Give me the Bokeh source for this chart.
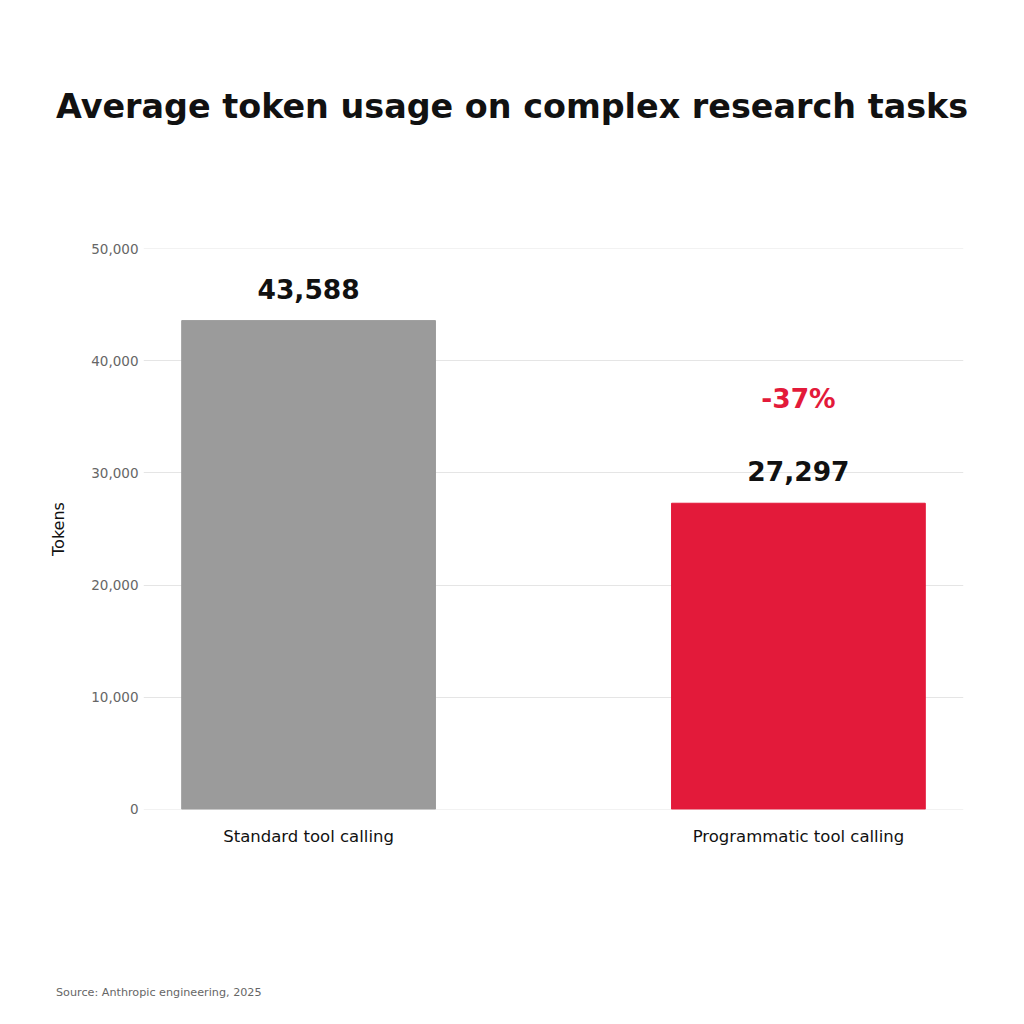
from bokeh.models import ColumnDataSource, Range1d, FixedTicker, NumeralTickFormatter, Div
from bokeh.plotting import figure
from bokeh.layouts import column
from bokeh.core.properties import value
from bokeh.embed import file_html
from bokeh.resources import INLINE

# Data
methods = ["Standard tool calling", "Programmatic tool calling"]
tokens = [43588, 27297]
bar_colors = ["#9b9b9b", "#e31a3a"]
value_labels = ["43,588", "27,297"]
change_label = "-37%"
y_ticks = [0, 10000, 20000, 30000, 40000, 50000]
title_text = "Average token usage on complex research tasks"
source_text = "Source: Anthropic engineering, 2025"

FONT = "DejaVu Sans"

src = ColumnDataSource(dict(
    x=[0, 1],
    top=tokens,
    color=bar_colors,
    label=value_labels,
))

W = 1008
TITLE_H = 170
FIG_H = 699

p = figure(
    width=W, height=FIG_H,
    x_range=Range1d(-0.337, 1.337),
    # tiny margin so the 0 and 50,000 grid lines are drawn
    y_range=Range1d(-20, 50020),
    output_backend="svg",
    toolbar_location=None,
    min_border_left=143, min_border_right=W - 963,
    min_border_top=248 - TITLE_H, min_border_bottom=FIG_H - (809 - TITLE_H),
    margin=0,
)
p.outline_line_color = None
p.background_fill_color = "white"
p.border_fill_color = "white"

p.vbar(x="x", top="top", width=0.518, color="color", source=src)

# value labels above bars
p.text(x="x", y="top", text="label", source=src,
       text_font=value(FONT), text_font_style="bold", text_font_size="26.5px",
       text_color="#111111", text_align="center", text_baseline="bottom",
       y_offset=-22)

# percent change above the second bar
p.text(x=[1], y=[tokens[1]], text=[change_label],
       text_font=value(FONT), text_font_style="bold", text_font_size="26.5px",
       text_color="#e31a3a", text_align="center", text_baseline="middle",
       y_offset=-105)

# axes
p.xaxis.ticker = FixedTicker(ticks=[0, 1])
p.xaxis.major_label_overrides = {0: methods[0], 1: methods[1]}
p.xaxis.major_label_text_font = FONT
p.xaxis.major_label_text_font_size = "16.5px"
p.xaxis.major_label_text_color = "#111111"
p.xaxis.major_label_standoff = 17
p.xaxis.axis_line_color = None
p.xaxis.major_tick_line_color = None
p.xaxis.minor_tick_line_color = None
p.xaxis.major_tick_out = 0
p.xaxis.major_tick_in = 0

p.yaxis.ticker = FixedTicker(ticks=y_ticks)
p.yaxis.formatter = NumeralTickFormatter(format="0,0")
p.yaxis.major_label_text_font = FONT
p.yaxis.major_label_text_font_size = "13.5px"
p.yaxis.major_label_text_color = "#666666"
p.yaxis.major_label_standoff = 5
p.yaxis.axis_line_color = None
p.yaxis.major_tick_line_color = None
p.yaxis.minor_tick_line_color = None
p.yaxis.major_tick_out = 0
p.yaxis.major_tick_in = 0
p.yaxis.axis_label = "Tokens"
p.yaxis.axis_label_text_font = FONT
p.yaxis.axis_label_text_font_size = "16px"
p.yaxis.axis_label_text_font_style = "normal"
p.yaxis.axis_label_text_color = "#111111"
p.yaxis.axis_label_standoff = 20

p.xgrid.grid_line_color = None
p.ygrid.grid_line_color = "#e5e5e5"
p.ygrid.grid_line_width = 1

# title and source note as html blocks around the chart
title_div = Div(
    text=('<div style="font-family:\'DejaVu Sans\';font-weight:bold;font-size:33.4px;'
          'color:#111111;line-height:40px;padding-top:87px;padding-left:56px;'
          'white-space:nowrap;">' + title_text + '</div>'),
    width=W, height=TITLE_H, margin=0,
)
note_div = Div(
    text=('<div style="font-family:\'DejaVu Sans\';font-size:11.2px;'
          'color:#666666;line-height:14px;padding-top:117px;padding-left:56px;'
          'white-space:nowrap;">' + source_text + '</div>'),
    width=W, height=150, margin=0,
)

layout = column(title_div, p, note_div, spacing=0)

open("out.html", "w").write(file_html(layout, INLINE))
